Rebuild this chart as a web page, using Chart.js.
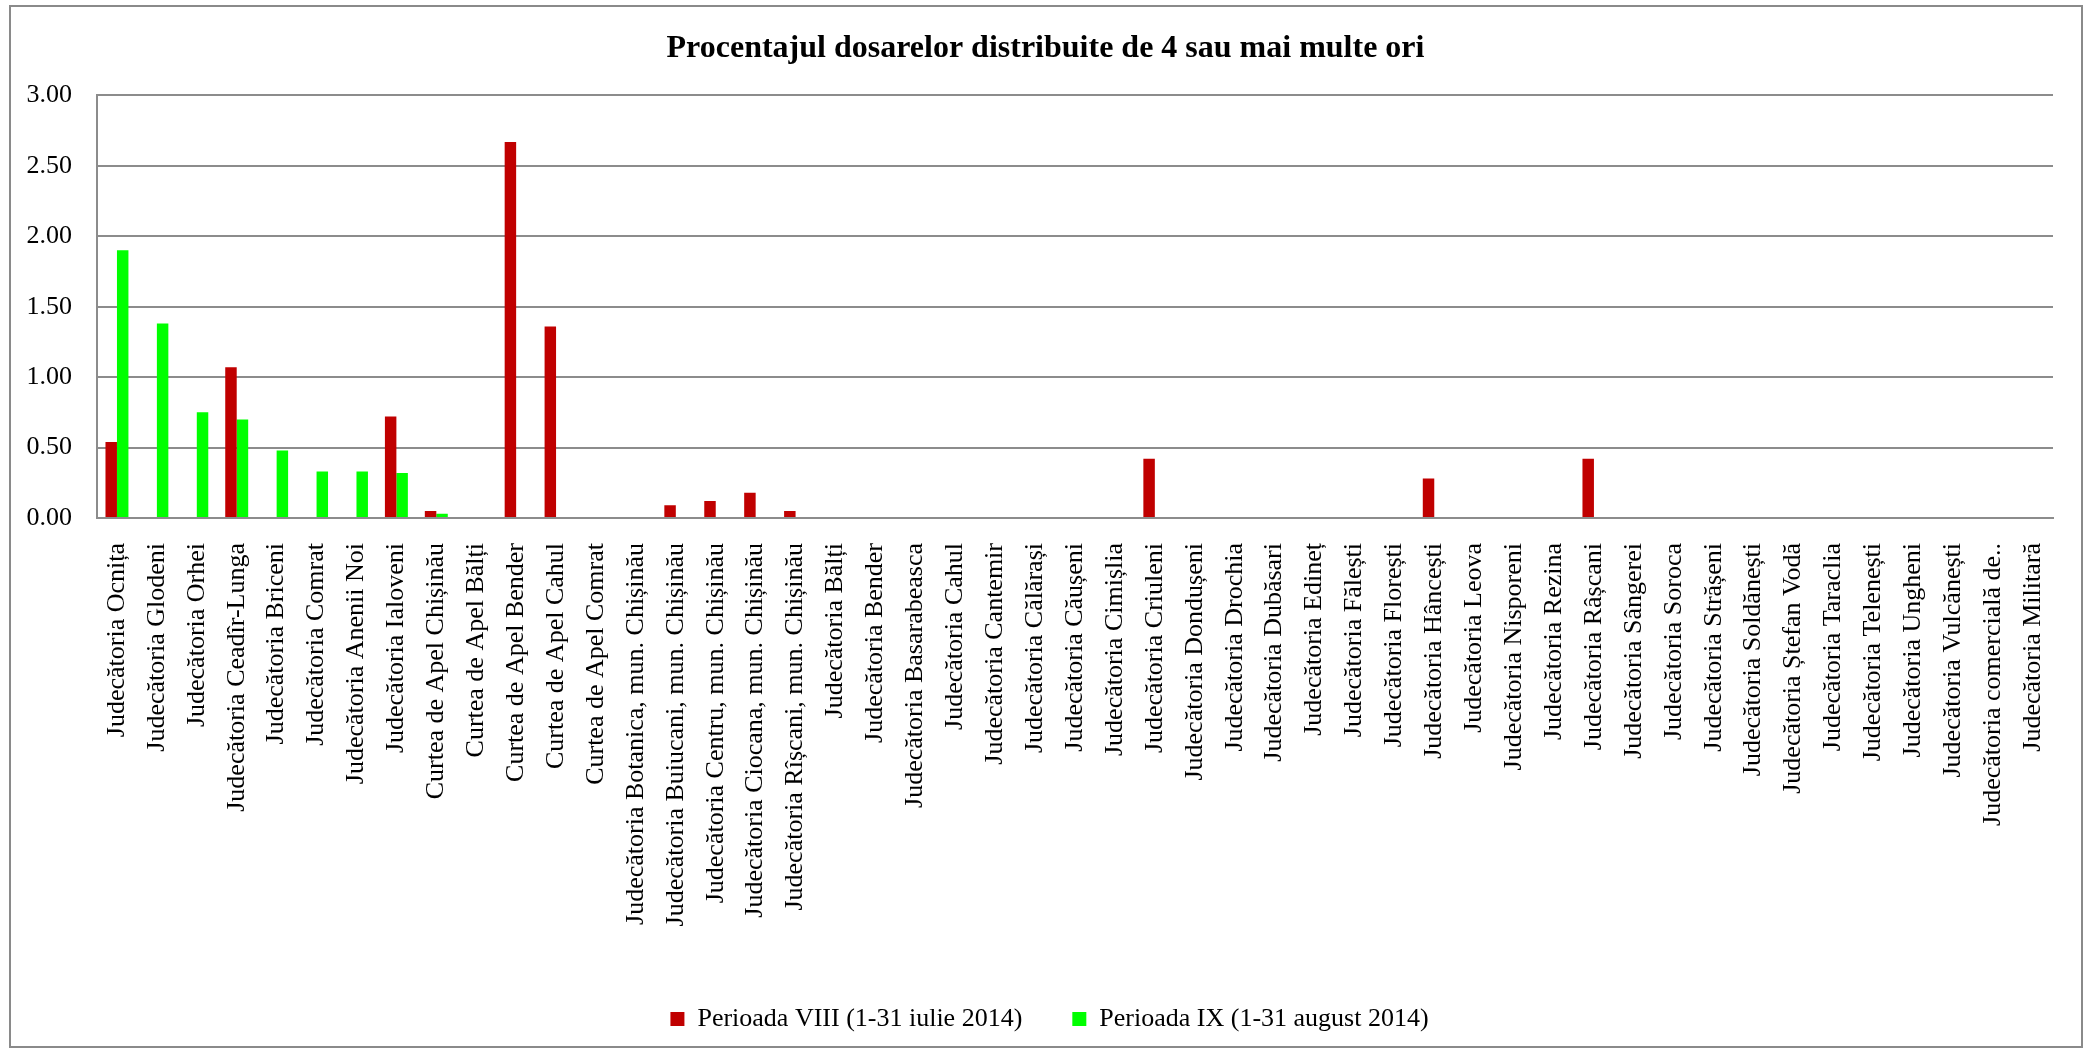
<!DOCTYPE html>
<html>
<head>
<meta charset="utf-8">
<title>Procentajul dosarelor distribuite de 4 sau mai multe ori</title>
<script src="https://cdn.jsdelivr.net/npm/chart.js@4.4.1/dist/chart.umd.min.js"></script>
<style>
  html, body { margin: 0; padding: 0; background: #ffffff; }
  #chart { display: block; }
</style>
</head>
<body>
<canvas id="chart" width="2091" height="1053"></canvas>
<script>
// Court names (x axis categories)
const courts = [
    'Judecătoria Ocnița', 'Judecătoria Glodeni', 'Judecătoria Orhei', 'Judecătoria Ceadîr-Lunga',
    'Judecătoria Briceni', 'Judecătoria Comrat', 'Judecătoria Anenii Noi', 'Judecătoria Ialoveni',
    'Curtea de Apel Chișinău', 'Curtea de Apel Bălți', 'Curtea de Apel Bender', 'Curtea de Apel Cahul',
    'Curtea de Apel Comrat', 'Judecătoria Botanica, mun. Chișinău', 'Judecătoria Buiucani, mun. Chișinău',
    'Judecătoria Centru, mun. Chișinău', 'Judecătoria Ciocana, mun. Chișinău', 'Judecătoria Rîșcani, mun. Chișinău',
    'Judecătoria Bălți', 'Judecătoria Bender', 'Judecătoria Basarabeasca', 'Judecătoria Cahul',
    'Judecătoria Cantemir', 'Judecătoria Călărași', 'Judecătoria Căușeni', 'Judecătoria Cimișlia',
    'Judecătoria Criuleni', 'Judecătoria Dondușeni', 'Judecătoria Drochia', 'Judecătoria Dubăsari',
    'Judecătoria Edineț', 'Judecătoria Fălești', 'Judecătoria Florești', 'Judecătoria Hâncești',
    'Judecătoria Leova', 'Judecătoria Nisporeni', 'Judecătoria Rezina', 'Judecătoria Râșcani',
    'Judecătoria Sângerei', 'Judecătoria Soroca', 'Judecătoria Strășeni', 'Judecătoria Soldănești',
    'Judecătoria Ștefan Vodă', 'Judecătoria Taraclia', 'Judecătoria Telenești', 'Judecătoria Ungheni',
    'Judecătoria Vulcănești', 'Judecătoria comercială de..', 'Judecătoria Militară'
];

// Perioada VIII (1-31 iulie 2014)
const periodVIII = [
    0.54, 0, 0, 1.07, 0, 0, 0, 0.72,
    0.05, 0, 2.67, 1.36, 0, 0, 0.09, 0.12, 0.18, 0.05,
    0, 0, 0, 0, 0, 0, 0, 0,
    0.42, 0, 0, 0, 0, 0, 0, 0.28,
    0, 0, 0, 0.42, 0, 0, 0, 0,
    0, 0, 0, 0, 0, 0, 0
];

// Perioada IX (1-31 august 2014)
const periodIX = [
    1.90, 1.38, 0.75, 0.70, 0.48, 0.33, 0.33, 0.32,
    0.03, 0, 0, 0, 0, 0, 0, 0, 0, 0,
    0, 0, 0, 0, 0, 0, 0, 0,
    0, 0, 0, 0, 0, 0, 0, 0,
    0, 0, 0, 0, 0, 0, 0, 0,
    0, 0, 0, 0, 0, 0, 0
];

const seriesLabels = ['Perioada VIII (1-31 iulie 2014)', 'Perioada IX (1-31 august 2014)'];

const serif = '"Liberation Serif", "Times New Roman", serif';
const gridGray = '#8c8c8c';

// White background and the outer frame around the whole chart
const framePlugin = {
    id: 'frame',
    beforeDraw(chart) {
        const ctx = chart.ctx;
        ctx.save();
        ctx.fillStyle = '#ffffff';
        ctx.fillRect(0, 0, chart.width, chart.height);
        ctx.restore();
    },
    afterDraw(chart) {
        const ctx = chart.ctx;
        ctx.save();
        ctx.strokeStyle = '#8a8a8a';
        ctx.lineWidth = 2;
        ctx.strokeRect(10, 6, 2072, 1041);
        ctx.restore();
    }
};

// Excel centres the title and legend on the whole frame, not on the padded box
const centerPlugin = {
    id: 'recenter',
    afterLayout(chart) {
        if (chart.legend) {
            chart.legend.left += 18;
            chart.legend.right += 18;
        }
        if (chart.titleBlock) {
            chart.titleBlock.left += 14;
            chart.titleBlock.right += 14;
        }
    }
};

new Chart(document.getElementById('chart'), {
    type: 'bar',
    data: {
        labels: courts,
        datasets: [
            {
                label: seriesLabels[0],
                data: periodVIII,
                backgroundColor: '#c00000',
                borderWidth: 0
            },
            {
                label: seriesLabels[1],
                data: periodIX,
                backgroundColor: '#00ff00',
                borderWidth: 0
            }
        ]
    },
    options: {
        responsive: false,
        animation: false,
        devicePixelRatio: 1,
        barPercentage: 1,
        categoryPercentage: 0.575,
        layout: {
            padding: { left: 10, right: 38, top: 0, bottom: 11 }
        },
        plugins: {
            title: {
                display: true,
                text: 'Procentajul dosarelor distribuite de 4 sau mai multe ori',
                color: '#000000',
                font: { family: serif, size: 32, weight: 'bold' },
                padding: { top: 30, bottom: 27 }
            },
            legend: {
                position: 'bottom',
                labels: {
                    color: '#000000',
                    font: { family: serif, size: 26 },
                    boxWidth: 14,
                    boxHeight: 14,
                    padding: 50
                }
            },
            tooltip: { enabled: false }
        },
        scales: {
            x: {
                grid: { display: false, drawTicks: false },
                border: { display: true, color: gridGray, width: 2 },
                ticks: {
                    color: '#000000',
                    font: { family: serif, size: 26 },
                    minRotation: 90,
                    maxRotation: 90,
                    autoSkip: false,
                    padding: 25
                },
                afterFit(scale) {
                    scale.height = 438;
                }
            },
            y: {
                min: 0,
                max: 3,
                grid: { color: gridGray, lineWidth: 2, drawTicks: false },
                border: { display: true, color: gridGray, width: 2 },
                ticks: {
                    stepSize: 0.5,
                    color: '#000000',
                    font: { family: serif, size: 26 },
                    padding: 25,
                    callback: (value) => Number(value).toFixed(2)
                },
                afterFit(scale) {
                    scale.width = 87;
                }
            }
        }
    },
    plugins: [framePlugin, centerPlugin]
});
</script>
</body>
</html>
